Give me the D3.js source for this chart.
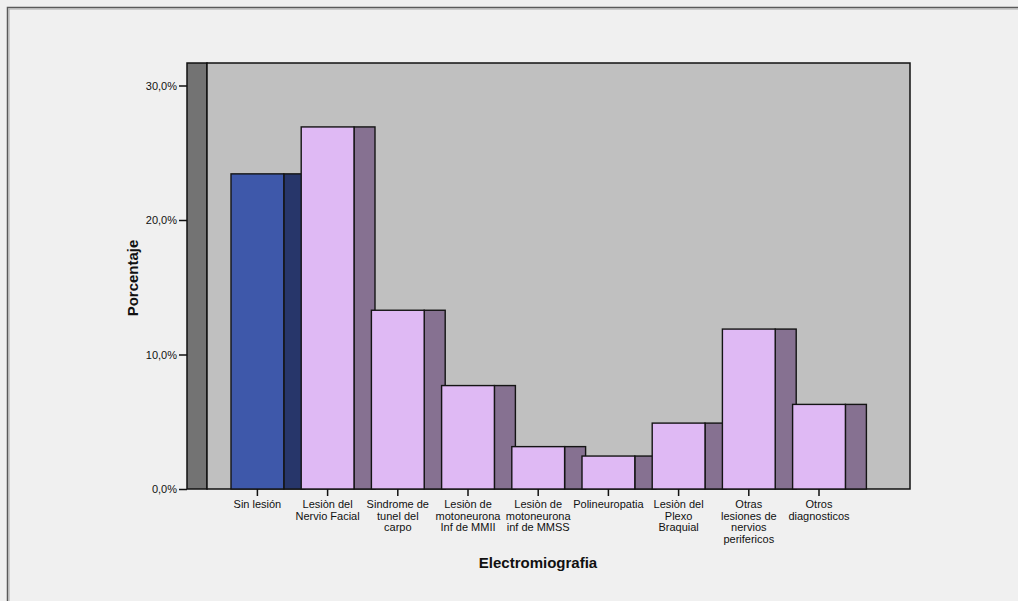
<!DOCTYPE html>
<html>
<head>
<meta charset="utf-8">
<script src="https://cdn.jsdelivr.net/npm/d3@7"></script>
<style>
  html, body { margin: 0; padding: 0; background: #f0f0f0; }
  svg { display: block; font-family: "Liberation Sans", Arial, sans-serif; }
</style>
</head>
<body>
<svg id="chart" width="1018" height="601"></svg>
<script>
// Electromiografia: percentage of patients per diagnosis
const categories = [
  ["Sin lesión"],
  ["Lesiòn del", "Nervio Facial"],
  ["Sindrome de", "tunel del", "carpo"],
  ["Lesiòn de", "motoneurona", "Inf de MMII"],
  ["Lesiòn de", "motoneurona", "inf de MMSS"],
  ["Polineuropatia"],
  ["Lesiòn del", "Plexo", "Braquial"],
  ["Otras", "lesiones de", "nervios", "perifericos"],
  ["Otros", "diagnosticos"]
];
const percentages = [23.43, 26.92, 13.29, 7.69, 3.15, 2.45, 4.90, 11.89, 6.29];
const yTicks = [0, 10, 20, 30];
const xTitle = "Electromiografia";
const yTitle = "Porcentaje";

const keys = categories.map(c => c.join(" "));
const data = keys.map((k, i) => ({ key: k, lines: categories[i], value: percentages[i], first: i === 0 }));

const svg = d3.select("#chart");

// outer panel frame (top and left edges)
svg.append("path")
  .attr("d", "M7.5,601 V7.5 H1018")
  .attr("fill", "none").attr("stroke", "#5a5a5a").attr("stroke-width", 1.5);
svg.append("path")
  .attr("d", "M9,601 V9 H1018")
  .attr("fill", "none").attr("stroke", "#a8a8a8").attr("stroke-width", 1);

const plotLeft = 207, plotRight = 910, plotTop = 63, plotBottom = 489;
const wallDepth = 20, barDepth = 21;

const y = d3.scaleLinear().domain([0, 30]).range([plotBottom, 85.5]);
const x = d3.scaleBand().domain(keys)
  .range([222.3, 854.1]).paddingInner(0.248).paddingOuter(0.124);

// side wall and back wall
svg.append("rect")
  .attr("x", plotLeft - wallDepth).attr("y", plotTop)
  .attr("width", wallDepth).attr("height", plotBottom - plotTop)
  .attr("fill", "#737373").attr("stroke", "#111").attr("stroke-width", 1.5);
svg.append("rect")
  .attr("x", plotLeft).attr("y", plotTop)
  .attr("width", plotRight - plotLeft).attr("height", plotBottom - plotTop)
  .attr("fill", "#c0c0c0").attr("stroke", "#111").attr("stroke-width", 1.5);

// bars: side face first, then front face, left to right
const bars = svg.append("g").selectAll("g").data(data).join("g");
bars.append("rect")
  .attr("x", d => x(d.key) + x.bandwidth())
  .attr("y", d => y(d.value))
  .attr("width", barDepth)
  .attr("height", d => y(0) - y(d.value))
  .attr("fill", d => d.first ? "#27366a" : "#867191")
  .attr("stroke", "#141414").attr("stroke-width", 1.4);
bars.append("rect")
  .attr("x", d => x(d.key))
  .attr("y", d => y(d.value))
  .attr("width", x.bandwidth())
  .attr("height", d => y(0) - y(d.value))
  .attr("fill", d => d.first ? "#3e58aa" : "#dfb9f4")
  .attr("stroke", "#141414").attr("stroke-width", 1.4);

// y axis on the outer edge of the side wall
const yAxis = svg.append("g")
  .attr("transform", `translate(${plotLeft - wallDepth},0)`)
  .call(d3.axisLeft(y).tickValues(yTicks).tickSize(8).tickPadding(2)
    .tickFormat(d => d3.format(".1f")(d).replace(".", ",") + "%"));
yAxis.select(".domain").remove();
yAxis.selectAll(".tick line").attr("stroke", "#111").attr("stroke-width", 1.5);
yAxis.selectAll(".tick text")
  .attr("font-size", 11).attr("fill", "#111")
  .attr("font-family", "Liberation Sans, Arial, sans-serif");

// x axis ticks at the centre of each front face
const xAxis = svg.append("g")
  .attr("transform", `translate(0,${plotBottom})`)
  .call(d3.axisBottom(x).tickSize(7).tickFormat(""));
xAxis.select(".domain").remove();
xAxis.selectAll(".tick line").attr("stroke", "#111").attr("stroke-width", 1.5);

// multi-line category labels
const lab = svg.append("g").selectAll("text").data(data).join("text")
  .attr("x", d => x(d.key) + x.bandwidth() / 2)
  .attr("y", 508)
  .attr("text-anchor", "middle")
  .attr("font-size", 11).attr("fill", "#111");
lab.selectAll("tspan").data(d => d.lines).join("tspan")
  .attr("x", function () { return d3.select(this.parentNode).attr("x"); })
  .attr("dy", (d, i) => i === 0 ? 0 : 11.5)
  .text(d => d);

// axis titles
svg.append("text")
  .attr("x", 538).attr("y", 568)
  .attr("text-anchor", "middle")
  .attr("font-size", 15).attr("font-weight", "bold").attr("fill", "#111")
  .text(xTitle);
svg.append("text")
  .attr("transform", "translate(138,278) rotate(-90)")
  .attr("text-anchor", "middle")
  .attr("font-size", 15).attr("font-weight", "bold").attr("fill", "#111")
  .text(yTitle);
</script>
</body>
</html>
